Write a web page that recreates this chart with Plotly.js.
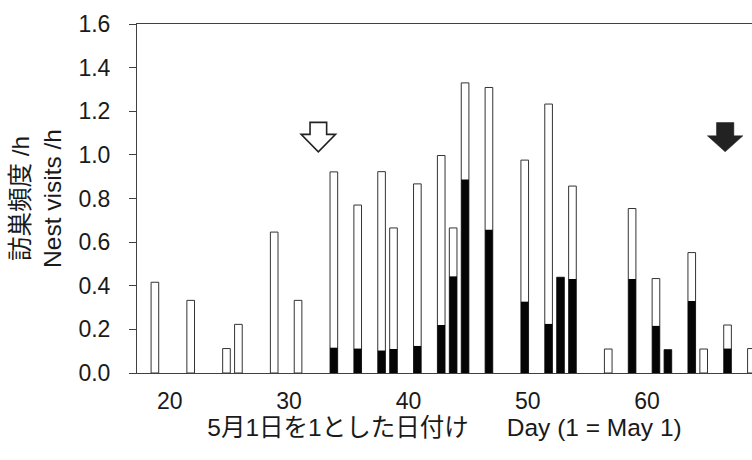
<!DOCTYPE html>
<html>
<head>
<meta charset="utf-8">
<script src="https://cdn.plot.ly/plotly-3.0.1.min.js"></script>
<style>html,body{margin:0;padding:0;overflow:hidden;background:#fff}</style>
</head>
<body>
<div id="chart" style="width:752px;height:460px"></div>
<script>
// Day of observation (1 = May 1)
const days = [19, 22, 25, 26, 29, 31, 34, 36, 38, 39, 41, 43, 44, 45, 47, 50, 52, 53, 54, 57, 59, 61, 62, 64, 65, 67, 69];
// Total nest visits per hour (white bar height)
const totalVisits = [0.416, 0.333, 0.112, 0.223, 0.646, 0.333, 0.922, 0.770, 0.923, 0.665, 0.867, 0.997, 0.665, 1.330, 1.309, 0.976, 1.233, 0.439, 0.857, 0.110, 0.754, 0.433, 0.107, 0.552, 0.110, 0.220, 0.112];
// Portion shown in black
const blackVisits = [0, 0, 0, 0, 0, 0, 0.116, 0.112, 0.103, 0.110, 0.124, 0.220, 0.443, 0.887, 0.657, 0.327, 0.225, 0.439, 0.431, 0, 0.431, 0.216, 0.107, 0.330, 0, 0.112, 0];

const xTickVals = [20, 30, 40, 50, 60];
const xTickText = ['20', '30', '40', '50', '60'];
const yTickVals = [0, 0.2, 0.4, 0.6, 0.8, 1.0, 1.2, 1.4, 1.6];
const yTickText = ['0.0', '0.2', '0.4', '0.6', '0.8', '1.0', '1.2', '1.4', '1.6'];

// Arrow markers: open arrow and filled arrow (day positions)
const arrowDays = [32.7, 66.8];
const arrowTipValue = 1.014;

const FONT = 'Liberation Sans, Arial, Noto Sans CJK JP, sans-serif';
const AXC = '#404040';
const TXT = '#1a1a1a';

function arrowPath(sw, hw, hh, th) {
  return 'M ' + (-sw) + ',' + th + ' L ' + sw + ',' + th + ' L ' + sw + ',' + hh +
         ' L ' + hw + ',' + hh + ' L 0,0 L ' + (-hw) + ',' + hh + ' L ' + (-sw) + ',' + hh + ' Z';
}

const traces = [
  {
    type: 'bar', x: days, y: totalVisits, width: 0.64,
    marker: {color: '#ffffff', line: {color: '#333333', width: 1}},
    hoverinfo: 'skip', showlegend: false
  },
  {
    type: 'bar', x: days, y: blackVisits, width: 0.64,
    marker: {color: '#050505', line: {color: '#050505', width: 0}},
    hoverinfo: 'skip', showlegend: false
  }
];

const layout = {
  width: 752, height: 460,
  paper_bgcolor: '#ffffff', plot_bgcolor: '#ffffff',
  margin: {l: 137, r: 0, t: 24, b: 87, pad: 0},
  barmode: 'overlay',
  showlegend: false,
  font: {family: FONT, size: 23, color: TXT},
  xaxis: {
    range: [17.5, 69.05],
    tickvals: xTickVals, ticktext: xTickText,
    ticks: '', showgrid: false, zeroline: false,
    showline: true, mirror: true, linecolor: AXC, linewidth: 1,
    ticklabelstandoff: 7, ticklabelshift: 3,
    tickfont: {family: FONT, size: 23, color: TXT},
    title: {text: '5月1日を1とした日付け\u3000\u00a0\u00a0Day (1 = May 1)', font: {family: FONT, size: 24.5, color: TXT}, standoff: 4}
  },
  yaxis: {
    range: [0, 1.6],
    tickvals: yTickVals, ticktext: yTickText,
    ticks: 'outside', ticklen: 7, tickwidth: 1, tickcolor: AXC,
    showgrid: false, zeroline: false,
    showline: true, linecolor: AXC, linewidth: 1,
    ticklabelstandoff: 14,
    tickfont: {family: FONT, size: 23, color: TXT},
    title: {text: '訪巣頻度 /h<br>Nest visits /h', font: {family: FONT, size: 24.5, color: TXT}, standoff: 9}
  },
  shapes: [
    {
      type: 'path', xref: 'x', yref: 'y', xsizemode: 'pixel', ysizemode: 'pixel',
      xanchor: arrowDays[0], yanchor: arrowTipValue,
      path: arrowPath(8.3, 17.2, 17.4, 29.4),
      fillcolor: '#ffffff', line: {color: '#222222', width: 1.6}
    },
    {
      type: 'path', xref: 'x', yref: 'y', xsizemode: 'pixel', ysizemode: 'pixel',
      xanchor: arrowDays[1], yanchor: arrowTipValue,
      path: arrowPath(8.7, 17.8, 16, 29.3),
      fillcolor: '#222222', line: {color: '#222222', width: 0.5}
    }
  ]
};

Plotly.newPlot('chart', traces, layout, {staticPlot: true, displayModeBar: false});
</script>
</body>
</html>
